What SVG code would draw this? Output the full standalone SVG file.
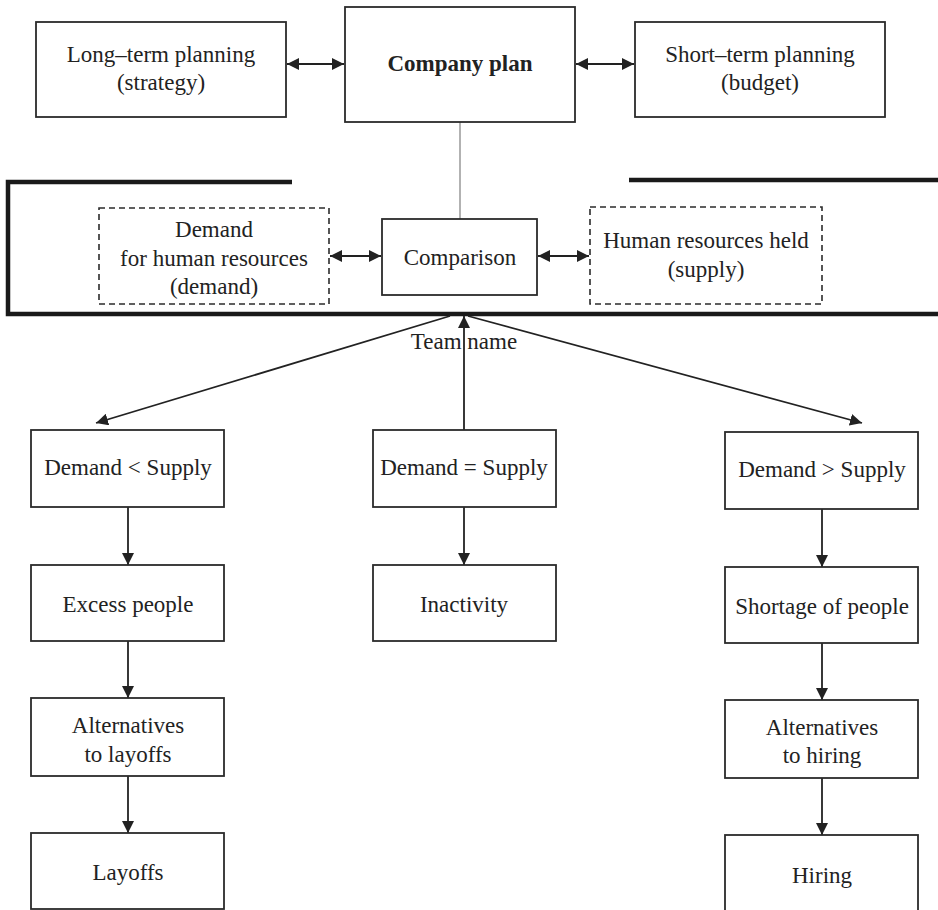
<svg xmlns="http://www.w3.org/2000/svg" width="938" height="910" viewBox="0 0 938 910">
<defs>
<style>
.box{fill:#fff;stroke:#2b2b2b;stroke-width:1.8}
.dash{fill:#fff;stroke:#2b2b2b;stroke-width:1.6;stroke-dasharray:6 4}
.t{font-family:'Liberation Serif','DejaVu Serif','Times New Roman',serif;font-size:23px;fill:#222;text-anchor:middle}
.b{font-weight:bold}
.ln{stroke:#222;stroke-width:1.8;fill:none}
.frame{stroke:#1a1a1a;stroke-width:4.5;fill:none}
</style>
<marker id="ah" viewBox="0 0 12 12" refX="12" refY="6" markerWidth="12" markerHeight="12" markerUnits="userSpaceOnUse" orient="auto-start-reverse">
<path d="M0,0 L12,6 L0,12 z" fill="#222"/>
</marker>
</defs>
<rect width="938" height="910" fill="#fff"/>

<g id="frame">
<polyline class="frame" points="292,182 8,182 8,314 938,314"/>
<line class="frame" x1="629" y1="180" x2="938" y2="180"/>
</g>

<g id="connectors">
<line x1="460" y1="122" x2="460" y2="219" stroke="#999" stroke-width="1.5"/>
<line class="ln" x1="287" y1="64" x2="344" y2="64" marker-start="url(#ah)" marker-end="url(#ah)"/>
<line class="ln" x1="576" y1="64" x2="634" y2="64" marker-start="url(#ah)" marker-end="url(#ah)"/>
<line class="ln" x1="330" y1="256" x2="381" y2="256" marker-start="url(#ah)" marker-end="url(#ah)"/>
<line class="ln" x1="538" y1="256" x2="589" y2="256" marker-start="url(#ah)" marker-end="url(#ah)"/>
<line class="ln" x1="450" y1="316" x2="96" y2="423" marker-end="url(#ah)"/>
<line class="ln" x1="468" y1="316" x2="862" y2="423" marker-end="url(#ah)"/>
<line class="ln" x1="464" y1="430" x2="464" y2="316" marker-end="url(#ah)"/>
<line class="ln" x1="128" y1="507" x2="128" y2="565" marker-end="url(#ah)"/>
<line class="ln" x1="128" y1="641" x2="128" y2="698" marker-end="url(#ah)"/>
<line class="ln" x1="128" y1="776" x2="128" y2="833" marker-end="url(#ah)"/>
<line class="ln" x1="464" y1="507" x2="464" y2="565" marker-end="url(#ah)"/>
<line class="ln" x1="822" y1="509" x2="822" y2="567" marker-end="url(#ah)"/>
<line class="ln" x1="822" y1="643" x2="822" y2="700" marker-end="url(#ah)"/>
<line class="ln" x1="822" y1="778" x2="822" y2="835" marker-end="url(#ah)"/>
<text class="t" x="464" y="349">Team name</text>
</g>

<g id="long-term">
<rect class="box" x="36" y="22" width="250" height="95"/>
<text class="t" x="161" y="62">Long–term planning</text>
<text class="t" x="161" y="90">(strategy)</text>
</g>
<g id="company-plan">
<rect class="box" x="345" y="7" width="230" height="115"/>
<text class="t b" x="460" y="71">Company plan</text>
</g>
<g id="short-term">
<rect class="box" x="635" y="22" width="250" height="95"/>
<text class="t" x="760" y="62">Short–term planning</text>
<text class="t" x="760" y="90">(budget)</text>
</g>

<g id="demand-hr">
<rect class="dash" x="99" y="208" width="230" height="96"/>
<text class="t" x="214" y="237">Demand</text>
<text class="t" x="214" y="266">for human resources</text>
<text class="t" x="214" y="294">(demand)</text>
</g>
<g id="comparison">
<rect class="box" x="382" y="219" width="155" height="76"/>
<text class="t" x="460" y="265">Comparison</text>
</g>
<g id="hr-held">
<rect class="dash" x="590" y="207" width="232" height="97"/>
<text class="t" x="706" y="248">Human resources held</text>
<text class="t" x="706" y="277">(supply)</text>
</g>

<g id="d-lt-s">
<rect class="box" x="31" y="430" width="193" height="77"/>
<text class="t" x="128" y="475">Demand &lt; Supply</text>
</g>
<g id="d-eq-s">
<rect class="box" x="373" y="430" width="183" height="77"/>
<text class="t" x="464" y="475">Demand = Supply</text>
</g>
<g id="d-gt-s">
<rect class="box" x="725" y="432" width="193" height="77"/>
<text class="t" x="822" y="477">Demand &gt; Supply</text>
</g>

<g id="excess">
<rect class="box" x="31" y="565" width="193" height="76"/>
<text class="t" x="128" y="612">Excess people</text>
</g>
<g id="inactivity">
<rect class="box" x="373" y="565" width="183" height="76"/>
<text class="t" x="464" y="612">Inactivity</text>
</g>
<g id="shortage">
<rect class="box" x="725" y="567" width="193" height="76"/>
<text class="t" x="822" y="614">Shortage of people</text>
</g>

<g id="alt-layoffs">
<rect class="box" x="31" y="698" width="193" height="78"/>
<text class="t" x="128" y="733">Alternatives</text>
<text class="t" x="128" y="762">to layoffs</text>
</g>
<g id="alt-hiring">
<rect class="box" x="725" y="700" width="193" height="78"/>
<text class="t" x="822" y="735">Alternatives</text>
<text class="t" x="822" y="763">to hiring</text>
</g>

<g id="layoffs">
<rect class="box" x="31" y="833" width="193" height="76"/>
<text class="t" x="128" y="880">Layoffs</text>
</g>
<g id="hiring">
<rect class="box" x="725" y="835" width="193" height="80"/>
<text class="t" x="822" y="883">Hiring</text>
</g>
</svg>
